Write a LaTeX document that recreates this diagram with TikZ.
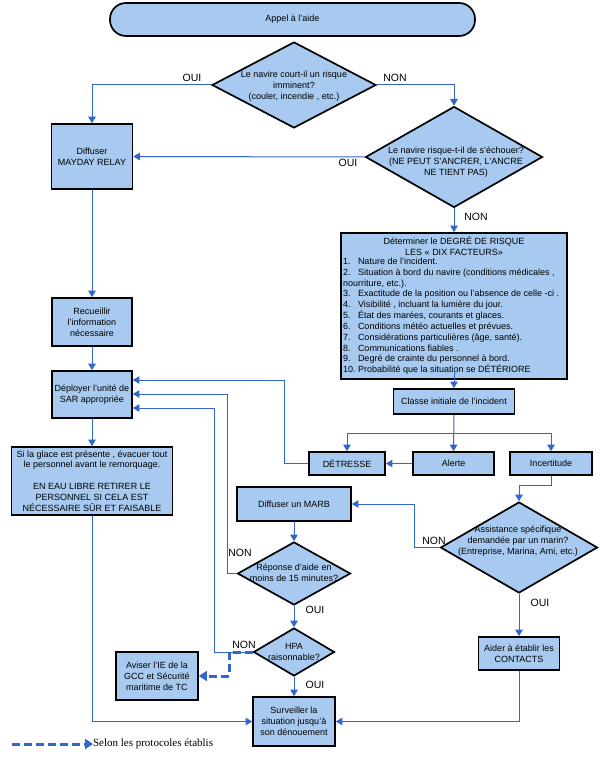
\documentclass[tikz,border=0pt]{standalone}
\usepackage{fontspec}
\setmainfont{Liberation Sans}
\newfontfamily\serifleg{Liberation Serif}
\usetikzlibrary{shapes.geometric,arrows.meta}
\definecolor{boxfill}{RGB}{168,202,240}
\definecolor{linkblue}{RGB}{51,102,204}
\begin{document}
\begin{tikzpicture}[x=1pt,y=-1pt,
  every node/.style={inner sep=0pt, outer sep=0pt},
  box/.style={draw=black, line width=1.7pt, fill=boxfill, rectangle, align=center, outer sep=0.85pt, font=\fontsize{9}{10.9}\selectfont},
  dia/.style={draw=black, line width=1.7pt, fill=boxfill, diamond, outer sep=0.85pt},
  dtext/.style={align=center, font=\fontsize{9}{10.9}\selectfont},
  lab/.style={font=\fontsize{10.5}{12}\selectfont},
  arr/.style={draw=linkblue, line width=1pt, -{Triangle[width=7.5pt,length=6.5pt]}},
  dasharr/.style={draw=linkblue, line width=3pt, dash pattern=on 8pt off 4pt, -{Triangle[width=10pt,length=8pt]}}
]
\useasboundingbox[fill=white] (0,0) rectangle (599,759);

% nodes
\node[box, minimum width=365pt, minimum height=33pt, rounded corners=16pt] (appel) at (292.5,19.5) {Appel à l'aide};

\node[dia, minimum width=164pt, minimum height=86pt] (d1) at (294,85) {};
\node[dtext] (d1t) at (294,86) {Le navire court-il un risque\\imminent?\\(couler, incendie , etc.)};

\node[dia, minimum width=177pt, minimum height=101pt] (d2) at (454,157) {};
\node[dtext] (d2t) at (456,162) {Le navire risque-t-il de s'échouer?\\(NE PEUT S'ANCRER, L'ANCRE\\NE TIENT PAS)};

\node[box, minimum width=81pt, minimum height=65pt] (diff) at (92,156.5) {Diffuser\\MAYDAY RELAY};
\node[box, minimum width=80pt, minimum height=48pt] (rec) at (92,322) {Recueillir\\l'information\\nécessaire};
\node[box, minimum width=80pt, minimum height=47pt] (dep) at (92,394.5) {Déployer l'unité de\\SAR appropriée};
\node[box, minimum width=161pt, minimum height=68pt] (glace) at (92,481) {Si la glace est présente , évacuer tout\\le personnel avant le remorquage.\\[10.9pt]EN EAU LIBRE RETIRER LE\\PERSONNEL SI CELA EST\\NÉCESSAIRE SÛR ET FAISABLE};

\node[box, minimum width=226pt, minimum height=146pt] (det) at (454,306) {};
\node[dtext] (dethead) at (454,246) {Déterminer le DEGRÉ DE RISQUE\\LES « DIX FACTEURS»};
\node[align=left, anchor=west, font=\fontsize{9}{10.83}\selectfont] (detlist) at (343,316.2) {%
\makebox[15pt][l]{1.}Nature de l'incident.\\
\makebox[15pt][l]{2.}Situation à bord du navire (conditions médicales ,\\
nourriture, etc.).\\
\makebox[15pt][l]{3.}Exactitude de la position ou l'absence de celle -ci .\\
\makebox[15pt][l]{4.}Visibilité , incluant la lumière du jour.\\
\makebox[15pt][l]{5.}État des marées, courants et glaces.\\
\makebox[15pt][l]{6.}Conditions météo actuelles et prévues.\\
\makebox[15pt][l]{7.}Considérations particulières (âge, santé).\\
\makebox[15pt][l]{8.}Communications fiables .\\
\makebox[15pt][l]{9.}Degré de crainte du personnel à bord.\\
\makebox[15pt][l]{10.}Probabilité que la situation se DÉTÉRIORE};

\node[box, minimum width=121pt, minimum height=25pt] (classe) at (454,401.5) {Classe initiale de l'incident};
\node[box, minimum width=76pt, minimum height=23pt] (detr) at (347,463.5) {DÉTRESSE};
\node[box, minimum width=81pt, minimum height=23pt] (alerte) at (453.5,463.5) {Alerte};
\node[box, minimum width=82pt, minimum height=23pt] (incert) at (551,463.5) {Incertitude};

\node[box, minimum width=114pt, minimum height=34pt] (marb) at (294,504) {Diffuser un MARB};
\node[dia, minimum width=113pt, minimum height=63pt] (rep) at (294,573.5) {};
\node[dtext] (rept) at (294,572.5) {Réponse d'aide en\\moins de 15 minutes?};
\node[dia, minimum width=81pt, minimum height=48pt] (hpa) at (294,652) {};
\node[dtext] (hpat) at (294,651.7) {HPA\\raisonnable?};
\node[box, minimum width=82pt, minimum height=49pt] (surv) at (294,721.5) {Surveiller la\\situation jusqu'à\\son dénouement};
\node[box, minimum width=82pt, minimum height=48pt] (avis) at (157,676) {Aviser l'IE de la\\GCC et Sécurité\\maritime de TC};

\node[dia, minimum width=157pt, minimum height=91pt] (assist) at (519,547.5) {};
\node[dtext] (assistt) at (518,541.3) {Assistance spécifique\\demandée par un marin?\\(Entreprise, Marina, Ami, etc.)};
\node[box, minimum width=81pt, minimum height=33pt] (aider) at (519,653.5) {Aider à établir les\\CONTACTS};

% labels
\node[lab] (l1) at (192,78) {OUI};
\node[lab] (l2) at (395,78) {NON};
\node[lab] (l3) at (348,163) {OUI};
\node[lab] (l4) at (476,217) {NON};
\node[lab] (l5) at (240,553) {NON};
\node[lab] (l6) at (315,610) {OUI};
\node[lab] (l7) at (244,645) {NON};
\node[lab] (l8) at (315,685) {OUI};
\node[lab] (l9) at (434,541) {NON};
\node[lab] (l10) at (540,603) {OUI};

% helper coordinates
\coordinate (br) at (454,433);
\coordinate (k1) at (284,380);
\coordinate (k2) at (227,394);
\coordinate (k3) at (214,408);
\coordinate (k4) at (551,485);
\coordinate (k5) at (414,504);
\coordinate (k6) at (519,721.5);
\coordinate (k7) at (92,721.5);
\coordinate (dk) at (229,652);
\coordinate (leg1) at (12,744);

% connectors
\draw[arr] (d1.west) -| (diff.north);
\draw[arr] (d1.east) -| (d2.north);
\draw[arr] (d2.west) -- (diff.east);
\draw[arr] (d2.south) -- (det.north);
\draw[arr] (diff.south) -- (rec.north);
\draw[arr] (rec.south) -- (dep.north);
\draw[arr] (dep.south) -- (glace.north);
\draw[arr] ([yshift=11pt]det.south) -- (classe.north);
\draw[arr] (classe.south) -- (alerte.north);
\draw[arr] (br) -| (detr.north);
\draw[arr] (br) -| (incert.north);
\draw[arr] (alerte.west) -- (detr.east);
\draw[arr] (detr.west) -| (k1) -- (k1 -| dep.east);
\draw[arr] (rep.west) -| (k2) -- (k2 -| dep.east);
\draw[arr] (hpa.west) -| (k3) -- (k3 -| dep.east);
\draw[arr] (incert.south) -- (k4) -| (assist.north);
\draw[arr] (assist.west) -| (k5) -- (k5 -| marb.east);
\draw[arr] (assist.south) -- (aider.north);
\draw[arr] (aider.south) -- (k6) -- (surv.east);
\draw[arr] (glace.south) -- (k7) -- (surv.west);
\draw[arr] (marb.south) -- (rep.north);
\draw[arr] (rep.south) -- (hpa.north);
\draw[arr] (hpa.south) -- (surv.north);
\draw[dasharr] (hpa.west) -- (dk) |- (avis.east);

% legend
\node[anchor=west, font=\serifleg\fontsize{11}{13}\selectfont] (legt) at (93,744) {Selon les protocoles établis};
\draw[dasharr] (leg1) -- (legt.west);
\end{tikzpicture}
\end{document}
